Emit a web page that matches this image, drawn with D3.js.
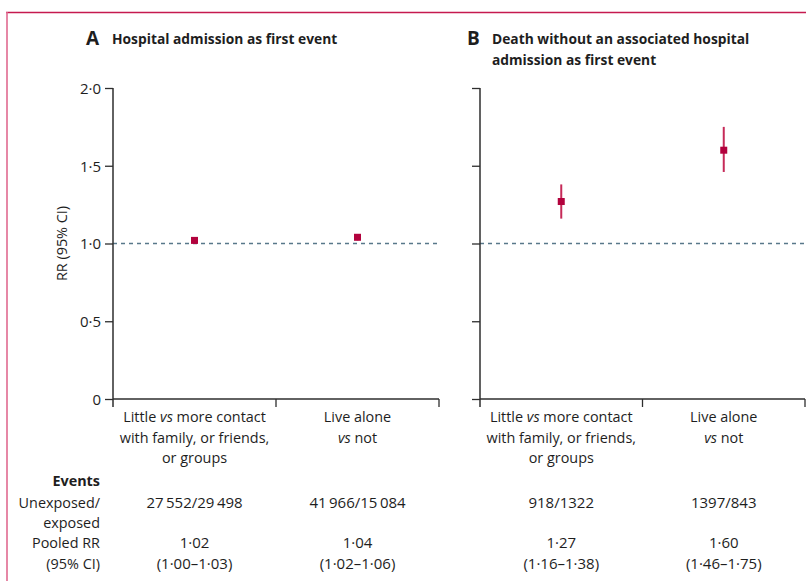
<!DOCTYPE html>
<html>
<head>
<meta charset="utf-8">
<script src="https://cdn.jsdelivr.net/npm/d3@7"></script>
<style>
  html, body { margin: 0; padding: 0; background: #fff; }
  svg { display: block; font-family: "Open Sans", "Noto Sans", sans-serif; }
</style>
</head>
<body>
<svg id="chart" width="806" height="581"></svg>
<script>
// Categories (label lines; "vs" is set in italics)
const categories = ["contact", "alone"];
const categoryLines = [
  [["Little ", "vs", " more contact"], ["with family, or friends,"], ["or groups"]],
  [["Live alone"], ["", "vs", " not"]]
];

// Panel A: hospital admission as first event
const rrA = [1.02, 1.04];
const loA = [1.00, 1.02];
const hiA = [1.03, 1.06];
const eventsA = ["27\u2009552/29\u2009498", "41\u2009966/15\u2009084"];

// Panel B: death without an associated hospital admission as first event
const rrB = [1.27, 1.60];
const loB = [1.16, 1.46];
const hiB = [1.38, 1.75];
const eventsB = ["918/1322", "1397/843"];

const yTicks = [0, 0.5, 1.0, 1.5, 2.0];
const rowLabels = ["Unexposed/", "exposed", "Pooled RR", "(95% CI)"];

const red = "#b2023d";
const axisCol = "#2e2e2e";
const dashCol = "#58788a";
const textCol = "#1e1e1e";
const fs = 14.4;

const svg = d3.select("#chart");
const dot = s => s.replace(/\./g, "\u00b7");
const fmt2 = v => dot(d3.format(".2f")(v));
const fmtTick = v => v === 0 ? "0" : dot(d3.format(".1f")(v));

// Frame
svg.append("line").attr("x1", 6).attr("x2", 806).attr("y1", 12.5).attr("y2", 12.5)
  .attr("stroke", "#c51a4f").attr("stroke-width", 1.3);
svg.append("line").attr("x1", 7).attr("x2", 7).attr("y1", 12).attr("y2", 581)
  .attr("stroke", "#e06a90").attr("stroke-width", 1.6);

const y = d3.scaleLinear().domain([0, 2]).range([399, 88]);

const panels = [
  { x0: 113, x1: 439, rr: rrA, lo: loA, hi: hiA, events: eventsA, labels: true },
  { x0: 480, x1: 805, rr: rrB, lo: loB, hi: hiB, events: eventsB, labels: false }
];

panels.forEach(p => {
  const x = d3.scaleBand().domain(categories).range([p.x0, p.x1]);
  const g = svg.append("g");

  // reference line at RR = 1
  g.append("line").attr("x1", p.x0).attr("x2", p.x1)
    .attr("y1", y(1)).attr("y2", y(1))
    .attr("stroke", dashCol).attr("stroke-width", 1.4).attr("stroke-dasharray", "4,4");

  // y axis
  const yAxis = d3.axisLeft(y).tickValues(yTicks).tickSize(8).tickSizeOuter(0)
    .tickFormat(p.labels ? fmtTick : "");
  const ya = g.append("g").attr("transform", `translate(${p.x0},0)`).call(yAxis);
  ya.select(".domain").attr("stroke", axisCol).attr("stroke-width", 1.5)
    .attr("d", `M0,${y(2)}V${y(0) + 8}`);
  ya.selectAll(".tick line").attr("stroke", axisCol).attr("stroke-width", 1.3);
  ya.selectAll(".tick text").attr("x", -12).attr("dy", "0.35em")
    .attr("font-size", 15).attr("fill", textCol).attr("font-family", "Open Sans, sans-serif");

  // x axis with ticks at category boundaries
  g.append("line").attr("x1", p.x0).attr("x2", p.x1).attr("y1", y(0)).attr("y2", y(0))
    .attr("stroke", axisCol).attr("stroke-width", 1.5);
  const bounds = categories.map(c => x(c) + x.bandwidth());
  g.selectAll(".bt").data(bounds).join("line")
    .attr("x1", d => d).attr("x2", d => d).attr("y1", y(0)).attr("y2", y(0) + 8)
    .attr("stroke", axisCol).attr("stroke-width", 1.3);

  // category labels
  categories.forEach((c, i) => {
    const cx = x(c) + x.bandwidth() / 2;
    categoryLines[i].forEach((parts, li) => {
      const t = g.append("text").attr("x", cx).attr("y", 422 + li * 20.5)
        .attr("text-anchor", "middle").attr("font-size", fs).attr("fill", textCol);
      parts.forEach((s, k) => {
        if (s) t.append("tspan").attr("font-style", k === 1 ? "italic" : "normal").text(s);
      });
    });
    // events and pooled RR
    g.append("text").attr("x", cx).attr("y", 508).attr("text-anchor", "middle")
      .attr("font-size", 15).attr("fill", textCol).text(p.events[i]);
    g.append("text").attr("x", cx).attr("y", 548).attr("text-anchor", "middle")
      .attr("font-size", 15).attr("fill", textCol).text(fmt2(p.rr[i]));
    g.append("text").attr("x", cx).attr("y", 569).attr("text-anchor", "middle")
      .attr("font-size", 15).attr("fill", textCol)
      .text(`(${fmt2(p.lo[i])}\u2013${fmt2(p.hi[i])})`);
  });

  // estimates with 95% CI
  categories.forEach((c, i) => {
    const cx = x(c) + x.bandwidth() / 2;
    g.append("line").attr("x1", cx).attr("x2", cx)
      .attr("y1", y(p.lo[i])).attr("y2", y(p.hi[i]))
      .attr("stroke", "#c62a58").attr("stroke-width", 2);
    g.append("rect").attr("x", cx - 3.5).attr("y", y(p.rr[i]) - 3.5)
      .attr("width", 7).attr("height", 7).attr("fill", red);
  });
});

// Y axis title
svg.append("text").attr("transform", `translate(67,${y(1)}) rotate(-90)`)
  .attr("text-anchor", "middle").attr("font-size", fs).attr("fill", textCol).text("RR (95% CI)");

// Row labels for the table below the axis
svg.append("text").attr("x", 100).attr("y", 486).attr("text-anchor", "end")
  .attr("font-size", fs).attr("font-weight", "bold").attr("fill", textCol).text("Events");
const rowY = [508, 528, 548, 569];
rowLabels.forEach((s, i) => {
  svg.append("text").attr("x", 100).attr("y", rowY[i]).attr("text-anchor", "end")
    .attr("font-size", fs).attr("fill", textCol).text(s);
});

// Panel titles
svg.append("text").attr("x", 86).attr("y", 45).attr("font-size", 19)
  .attr("font-weight", "bold").attr("fill", textCol).text("A");
svg.append("text").attr("x", 112).attr("y", 44).attr("font-size", 13.8)
  .attr("font-weight", "bold").attr("fill", textCol).text("Hospital admission as first event");
svg.append("text").attr("x", 467).attr("y", 45).attr("font-size", 19)
  .attr("font-weight", "bold").attr("fill", textCol).text("B");
svg.append("text").attr("x", 492).attr("y", 44).attr("font-size", 13.8)
  .attr("font-weight", "bold").attr("fill", textCol).text("Death without an associated hospital");
svg.append("text").attr("x", 492).attr("y", 65).attr("font-size", 13.8)
  .attr("font-weight", "bold").attr("fill", textCol).text("admission as first event");
</script>
</body>
</html>
